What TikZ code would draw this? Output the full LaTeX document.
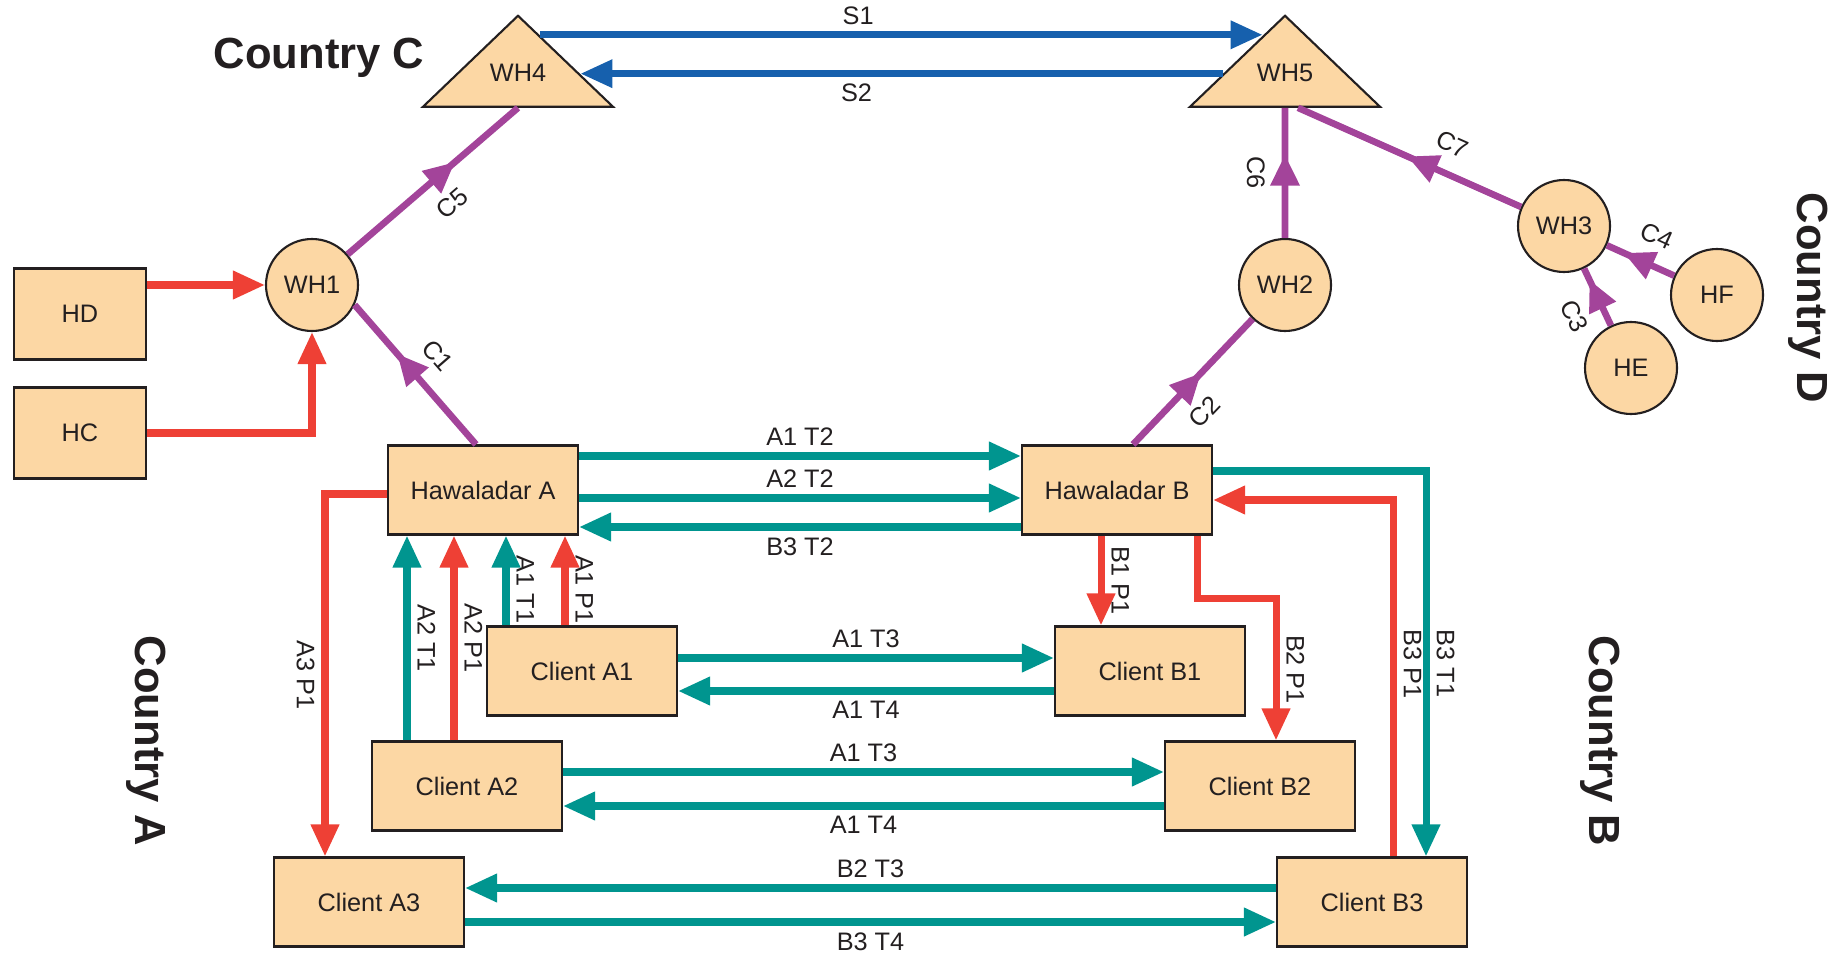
\documentclass[tikz,border=0pt]{standalone}
\usepackage{fontspec}
\setmainfont{Liberation Sans}
\usepackage{xcolor}
\usetikzlibrary{shapes.geometric,arrows.meta,positioning,calc,decorations.markings}

\definecolor{peach}{HTML}{FCD7A4}
\definecolor{ink}{HTML}{231F20}
\definecolor{flowteal}{HTML}{00958F}
\definecolor{flowred}{HTML}{EE4035}
\definecolor{flowplum}{HTML}{A3449A}
\definecolor{flowblue}{HTML}{1660AD}

\tikzset{flowtip/.tip={Triangle[length=3.2mm,width=2.7mm]},
  midflowtip/.tip={Triangle[length=3.1mm,width=2.8mm]}}

\begin{document}
\begin{tikzpicture}[on grid,
    every node/.style={font=\fontsize{7.2}{8.6}\selectfont, text=ink},
    party/.style={draw=ink, line width=0.6pt, fill=peach, minimum width=1.9cm, minimum height=0.89cm},
    hdbox/.style={party, minimum width=1.32cm, minimum height=0.91cm},
    hub/.style={circle, draw=ink, line width=0.6pt, fill=peach, minimum size=0.92cm, inner sep=0pt},
    depot/.style={isosceles triangle, isosceles triangle stretches, shape border rotate=90,
      draw=ink, line width=0.6pt, fill=peach, minimum width=1.9cm, minimum height=0.91cm, inner sep=0pt},
    country/.style={font=\fontsize{12.4}{14}\selectfont\bfseries},
    tflow/.style={draw=flowteal, line width=2pt, -flowtip},
    pflow/.style={draw=flowred, line width=2pt, -flowtip},
    sflow/.style={draw=flowblue, line width=1.9pt, -flowtip},
    cflow/.style={draw=flowplum, line width=1.9pt},
    midtip/.style={postaction={decorate}, decoration={markings,
      mark=at position #1 with {\arrow{midflowtip}}}},
    lbl/.style={inner sep=2pt},
    clbl/.style={inner sep=4.8pt},
    vlbl/.style={inner sep=2pt, rotate=-90, anchor=south},
    vlbll/.style={inner sep=2pt, rotate=-90, anchor=north}]

  \useasboundingbox (0,0) rectangle (18.45,9.52);

  \node[party] (hawA) at (4.83,4.62) {Hawaladar A};
  \node[party, right=6.34cm of hawA] (hawB) {Hawaladar B};
  \node[party] (cliA1) at (5.82,2.81) {Client A1};
  \node[party, right=5.68cm of cliA1] (cliB1) {Client B1};
  \node[party] (cliA2) at (4.67,1.66) {Client A2};
  \node[party, right=7.93cm of cliA2] (cliB2) {Client B2};
  \node[party] (cliA3) at (3.69,0.50) {Client A3};
  \node[party, right=10.03cm of cliA3] (cliB3) {Client B3};

  \node[hdbox] (hd) at (0.80,6.38) {HD};
  \node[hdbox, below=1.19cm of hd] (hc) {HC};
  \node[hub] (wh1) at (3.12,6.67) {WH1};
  \node[hub, right=9.73cm of wh1] (wh2) {WH2};
  \node[hub] (wh3) at (15.64,7.26) {WH3};
  \node[hub] (hf) at (17.17,6.57) {HF};
  \node[hub] (he) at (16.31,5.84) {HE};

  \node[depot, anchor=apex] (wh4) at (5.18,9.39) {};
  \node[depot, anchor=apex] (wh5) at (12.85,9.39) {};
  \node (wh4name) at ([yshift=3.5mm]wh4.lower side) {WH4};
  \node (wh5name) at ([yshift=3.5mm]wh5.lower side) {WH5};

  \node[country] (ctyC) at (3.19,8.94) {Country C};
  \node[country, rotate=-90] (ctyA) at (1.46,2.11) {Country A};
  \node[country, rotate=-90] (ctyB) at (16.00,2.11) {Country B};
  \node[country, rotate=-90] (ctyD) at (18.08,6.54) {Country D};

  % shipments between the two depots
  \draw[sflow] ($(wh4.apex)!0.23!(wh4.right corner)$) -- node[above, pos=0.44, lbl] {S1} ($(wh5.apex)!0.23!(wh5.left corner)$);
  \draw[sflow] ($(wh5.apex)!0.64!(wh5.left corner)$) -- node[below, pos=0.57, lbl] {S2} ($(wh4.apex)!0.64!(wh4.right corner)$);

  % transfers
  \draw[tflow] ([yshift=3.4mm]hawA.east) -- node[above, lbl] {A1 T2} ([yshift=3.4mm]hawB.west);
  \draw[tflow] ([yshift=-0.8mm]hawA.east) -- node[above, lbl] {A2 T2} ([yshift=-0.8mm]hawB.west);
  \draw[tflow] ([yshift=-3.7mm]hawB.west) -- node[below, lbl] {B3 T2} ([yshift=-3.7mm]hawA.east);
  \draw[tflow] ([yshift=1.3mm]cliA1.east) -- node[above, lbl] {A1 T3} ([yshift=1.3mm]cliB1.west);
  \draw[tflow] ([yshift=-2mm]cliB1.west) -- node[below, lbl] {A1 T4} ([yshift=-2mm]cliA1.east);
  \draw[tflow] ([yshift=1.4mm]cliA2.east) -- node[above, lbl] {A1 T3} ([yshift=1.4mm]cliB2.west);
  \draw[tflow] ([yshift=-2mm]cliB2.west) -- node[below, lbl] {A1 T4} ([yshift=-2mm]cliA2.east);
  \draw[tflow] ([yshift=1.4mm]cliB3.west) -- node[above, lbl] {B2 T3} ([yshift=1.4mm]cliA3.east);
  \draw[tflow] ([yshift=-2mm]cliA3.east) -- node[below, lbl] {B3 T4} ([yshift=-2mm]cliB3.west);
  \draw[tflow] ([xshift=-7.6mm]cliA1.north) -- node[pos=0.4, vlbl] {A1 T1} ([xshift=-7.6mm]cliA1.north |- hawA.south);
  \draw[tflow] ([xshift=-6mm]cliA2.north) -- node[vlbl] {A2 T1} ([xshift=-6mm]cliA2.north |- hawA.south);
  \draw[tflow] ([yshift=1.9mm]hawB.east) -| node[pos=0.75, vlbl] {B3 T1} ([xshift=5.4mm]cliB3.north);

  % payments
  \draw[pflow] (hd.east |- wh1) -- (wh1);
  \draw[pflow] (hc) -| (wh1);
  \draw[pflow] ([xshift=-1.7mm]cliA1.north) -- node[pos=0.4, vlbl] {A1 P1} ([xshift=-1.7mm]cliA1.north |- hawA.south);
  \draw[pflow] ([xshift=-1.3mm]cliA2.north) -- node[vlbl] {A2 P1} ([xshift=-1.3mm]cliA2.north |- hawA.south);
  \draw[pflow] ([xshift=-1.6mm]hawB.south) -- node[vlbl] {B1 P1} ([xshift=-1.6mm]hawB.south |- cliB1.north);
  \draw[pflow] ([yshift=-0.4mm]hawA.west) -| node[pos=0.75, vlbll] {A3 P1} ([xshift=-4.4mm]cliA3.north);
  \draw[pflow] ([xshift=8mm]hawB.south) -- ++(0,-0.63) -| node[pos=0.75, vlbl] {B2 P1} ([xshift=1.6mm]cliB2.north);
  \draw[pflow] ([xshift=2.1mm]cliB3.north) |- node[pos=0.27, vlbl] {B3 P1} ([yshift=-1mm]hawB.east);

  % goods carried to the depots
  \draw[cflow, midtip=0.65] ([xshift=-0.7mm]hawA.north) -- node[sloped, above, clbl] {C1} (wh1.-25);
  \draw[cflow, midtip=0.63] (wh1) -- node[sloped, below, clbl] {C5} (wh4.lower side);
  \draw[cflow, midtip=0.57] ([xshift=1.6mm]hawB.north) -- node[sloped, below, pos=0.42, clbl] {C2} (wh2);
  \draw[cflow, midtip=0.64] (wh2) -- node[rotate=-90, anchor=north, clbl] {C6} (wh5.lower side);
  \draw[cflow, midtip=0.51] (wh3) -- node[sloped, above, pos=0.36, clbl] {C7} ([xshift=1.3mm]wh5.lower side);
  \draw[cflow, midtip=0.75] (hf) -- node[sloped, above, pos=0.43, clbl] {C4} (wh3);
  \draw[cflow, midtip=0.8] (he) -- node[sloped, below, pos=0.38, clbl] {C3} (wh3);
\end{tikzpicture}
\end{document}
